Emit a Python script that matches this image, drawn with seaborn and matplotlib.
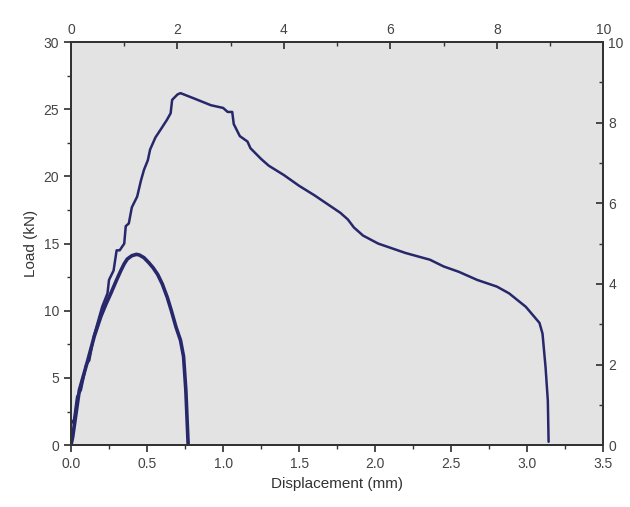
import numpy as np
import pandas as pd
import matplotlib
matplotlib.use("Agg")
import matplotlib.pyplot as plt
import seaborn as sns
from matplotlib.ticker import MultipleLocator

# thin stepped curve (specimen A)
disp_a = [0.0, 0.0, 0.02, 0.04, 0.065, 0.10, 0.12, 0.15, 0.175, 0.205, 0.24, 0.25,
          0.28, 0.30, 0.32, 0.35, 0.36, 0.38, 0.40, 0.435, 0.46, 0.48, 0.505, 0.52,
          0.555, 0.59, 0.63, 0.655, 0.665, 0.70, 0.72, 0.81, 0.92, 1.00, 1.03, 1.06,
          1.07, 1.11, 1.16, 1.18, 1.25, 1.30, 1.40, 1.50, 1.60, 1.77, 1.82, 1.86,
          1.92, 2.02, 2.20, 2.36, 2.45, 2.55, 2.67, 2.80, 2.88, 2.99, 3.08, 3.10,
          3.12, 3.135, 3.14]
load_a = [0.0, 1.6, 1.9, 3.6, 4.1, 6.0, 6.3, 8.1, 9.1, 10.3, 11.3, 12.3,
          13.0, 14.5, 14.5, 15.0, 16.3, 16.5, 17.7, 18.5, 19.7, 20.5, 21.2, 22.0,
          22.9, 23.5, 24.2, 24.7, 25.7, 26.1, 26.2, 25.8, 25.3, 25.1, 24.8, 24.8,
          23.9, 23.0, 22.6, 22.1, 21.3, 20.8, 20.1, 19.3, 18.6, 17.3, 16.8, 16.2,
          15.6, 15.0, 14.3, 13.8, 13.3, 12.9, 12.3, 11.8, 11.3, 10.3, 9.1, 8.3,
          5.8, 3.3, 0.25]

# thick smooth curve (specimen B)
disp_b = [0.0, 0.011, 0.055, 0.11, 0.153, 0.197, 0.23, 0.262, 0.30, 0.328, 0.35,
          0.37, 0.40, 0.43, 0.45, 0.48, 0.51, 0.54, 0.57, 0.60, 0.633, 0.66,
          0.69, 0.72, 0.74, 0.755, 0.77]
load_b = [0.0, 0.6, 4.1, 6.3, 8.1, 9.6, 10.5, 11.3, 12.3, 13.0, 13.5,
          13.85, 14.1, 14.2, 14.15, 13.95, 13.6, 13.2, 12.7, 12.0, 11.0, 10.0,
          8.8, 7.8, 6.6, 4.1, 0.1]

df_a = pd.DataFrame({"Displacement": disp_a, "Load": load_a})
df_b = pd.DataFrame({"Displacement": disp_b, "Load": load_b})

sns.set_theme(style="ticks", rc={"axes.facecolor": "#e3e3e3",
                                 "axes.edgecolor": "#333333",
                                 "axes.linewidth": 1.2})
plt.rcParams["font.family"] = ["Liberation Sans", "DejaVu Sans"]

line_col = "#27276b"
text_col = "#444444"

fig = plt.figure(figsize=(6.3, 5.07), dpi=100)
ax = fig.add_axes([0.1127, 0.122, 0.845, 0.795])

sns.lineplot(data=df_a, x="Displacement", y="Load", sort=False, estimator=None,
             color=line_col, linewidth=1.8, ax=ax)
sns.lineplot(data=df_b, x="Displacement", y="Load", sort=False, estimator=None,
             color=line_col, linewidth=2.6, ax=ax)

ax.set_xlim(0, 3.5)
ax.set_ylim(0, 30)
ax.xaxis.set_major_locator(MultipleLocator(0.5))
ax.xaxis.set_minor_locator(MultipleLocator(0.25))
ax.yaxis.set_major_locator(MultipleLocator(5))
ax.yaxis.set_minor_locator(MultipleLocator(2.5))
ax.set_xlabel("Displacement (mm)", fontsize=11, color="#333333")
ax.set_ylabel("Load (kN)", fontsize=11, color="#333333")
ax.tick_params(axis="both", which="major", direction="out", length=5,
               labelsize=10, labelcolor=text_col, color="#333333")
ax.tick_params(axis="both", which="minor", direction="out", length=3, color="#333333")

# secondary scales on top and right
top = ax.twiny()
top.set_xlim(0, 10)
top.xaxis.set_major_locator(MultipleLocator(2))
top.xaxis.set_minor_locator(MultipleLocator(1))
top.tick_params(axis="x", which="major", direction="in", length=5,
                labelsize=10, labelcolor=text_col, color="#333333")
top.tick_params(axis="x", which="minor", direction="in", length=3, color="#333333")

right = ax.twinx()
right.set_ylim(0, 10)
right.yaxis.set_major_locator(MultipleLocator(2))
right.yaxis.set_minor_locator(MultipleLocator(1))
right.tick_params(axis="y", which="major", direction="in", length=5,
                  labelsize=10, labelcolor=text_col, color="#333333")
right.tick_params(axis="y", which="minor", direction="in", length=3, color="#333333")

ax.grid(False)
fig.savefig("out.png", dpi=100, facecolor="white")
